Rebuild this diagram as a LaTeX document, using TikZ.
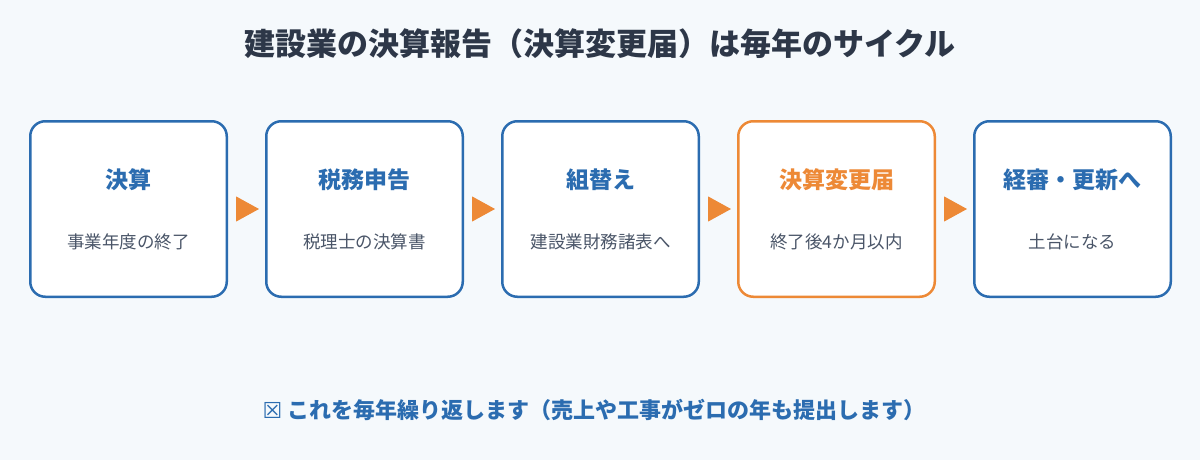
\documentclass[tikz,border=0pt]{standalone}
\usepackage{fontspec}
\setmainfont{Noto Sans CJK JP}
\newfontfamily\symfont{DejaVu Sans}
\usepackage{xcolor}
\usepackage{tikz}
\usetikzlibrary{arrows.meta,positioning}

\definecolor{pagebg}{HTML}{F5F9FC}
\definecolor{flowblue}{HTML}{2B6CB0}
\definecolor{floworange}{HTML}{ED8936}
\definecolor{titleink}{HTML}{2D3748}
\definecolor{subink}{HTML}{4A5568}

% two lines inside a box: heading, then note
\newcommand{\boxtext}[3]{%
  {\color{#1}\fontsize{23}{28}\selectfont\bfseries #2}\\[42pt]%
  {\color{subink}\fontsize{17.5}{20}\selectfont #3}}

\begin{document}
\begin{tikzpicture}[
    x=1pt, y=-1pt,
    node distance=37pt,
    box/.style={draw=flowblue, line width=2.5pt, rounded corners=15pt, fill=white,
                minimum width=196.5pt, minimum height=175.5pt, align=center, inner sep=0pt},
    hot/.style={box, draw=floworange},
    arr/.style={-{Triangle[length=23pt, width=25pt]}, floworange, line width=1pt,
                shorten <=8pt, shorten >=6pt}
]
\fill[pagebg] (0,0) rectangle (1200,460);
\useasboundingbox (0,0) rectangle (1200,460);

\node[font=\fontsize{31}{36}\selectfont\bfseries, text=titleink] (title) at (600,44)
  {建設業の決算報告（決算変更届）は毎年のサイクル};

\node[box] (kessan) at (128.5,209) {\boxtext{flowblue}{決算}{事業年度の終了}};
\node[box, right=of kessan] (shinkoku) {\boxtext{flowblue}{税務申告}{税理士の決算書}};
\node[box, right=of shinkoku] (kumikae) {\boxtext{flowblue}{組替え}{建設業財務諸表へ}};
\node[hot, right=of kumikae] (henko) {\boxtext{floworange}{決算変更届}{終了後4か月以内}};
\node[box, right=of henko] (keishin) {\boxtext{flowblue}{経審・更新へ}{土台になる}};

\draw[arr] (kessan) -- (shinkoku);
\draw[arr] (shinkoku) -- (kumikae);
\draw[arr] (kumikae) -- (henko);
\draw[arr] (henko) -- (keishin);

\node[font=\fontsize{22}{26}\selectfont\bfseries, text=flowblue] (note) at (594,410)
  {{\symfont\mdseries ☒} これを毎年繰り返します（売上や工事がゼロの年も提出します）};
\end{tikzpicture}
\end{document}
